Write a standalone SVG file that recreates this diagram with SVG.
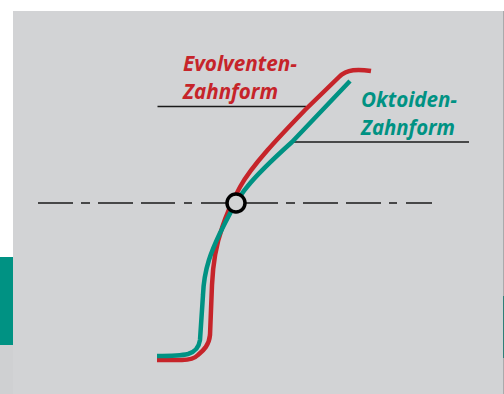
<svg xmlns="http://www.w3.org/2000/svg" width="504" height="394" viewBox="0 0 504 394">
<style>
.curve{fill:none;stroke-width:4.500;stroke-linecap:butt;stroke-linejoin:round}
.lead{stroke:#1a1a1a;stroke-width:1.3;fill:none}
.axis{stroke:#1a1a1a;stroke-width:1.4;fill:none}
text{font-family:"Open Sans","Liberation Sans",sans-serif;font-weight:700;font-style:italic;font-size:21px}
</style>
<rect width="504" height="394" fill="#fff"/>
<rect x="13" y="11" width="490" height="383" fill="#d2d3d5"/>
<rect x="0" y="345" width="13" height="49" fill="#cfd0d2"/>
<rect x="0" y="257" width="13" height="88" fill="#009283"/>
<rect x="503" y="11" width="1" height="383" fill="#a9aaac"/>
<rect x="503" y="296" width="1" height="62" fill="#2f7f78"/>
<g id="connectors">
<path class="axis" d="M38 203H73M81 203H90M98 203H133M141 203H175M184 203H192M201 203H228M244 203H278M286 203H295M303 203H338M346 203H381M389 203H397M406 203H432"/>
<path class="lead" d="M157.500 106.500H306"/>
<path class="lead" d="M292 142H469"/>
</g>
<g id="evolventen-curve">
<path class="curve" stroke="#c6242a" d="M371 71C358 69 347 69 339 77L305 110C280 136 252 165 240 187C233 200 226 215 222 228C216 245 213 262 212 285L210 335C209 345 204 350 198 355C194 359 190 360 182 360H157"/>
</g>
<g id="oktoiden-curve">
<path class="curve" stroke="#009283" d="M350 81L292 142C272 160 255 177 247 187C236 200 228 217 220 233C212 250 204 268 203 295L200 340C199 347 195 352 188 354C180 356 170 356 157 356"/>
</g>
<g id="pitch-point">
<circle cx="236" cy="203" r="9" fill="#d2d3d5" stroke="#000" stroke-width="3.500"/>
</g>
<g id="label-evolventen">
<text x="183" y="71" fill="#c6242a" textLength="114" lengthAdjust="spacingAndGlyphs">Evolventen-</text>
<text x="183" y="99" fill="#c6242a" textLength="95" lengthAdjust="spacingAndGlyphs">Zahnform</text>
</g>
<g id="label-oktoiden">
<text x="361" y="107" fill="#009283" textLength="96" lengthAdjust="spacingAndGlyphs">Oktoiden-</text>
<text x="361" y="135" fill="#009283" textLength="94" lengthAdjust="spacingAndGlyphs">Zahnform</text>
</g>
</svg>
